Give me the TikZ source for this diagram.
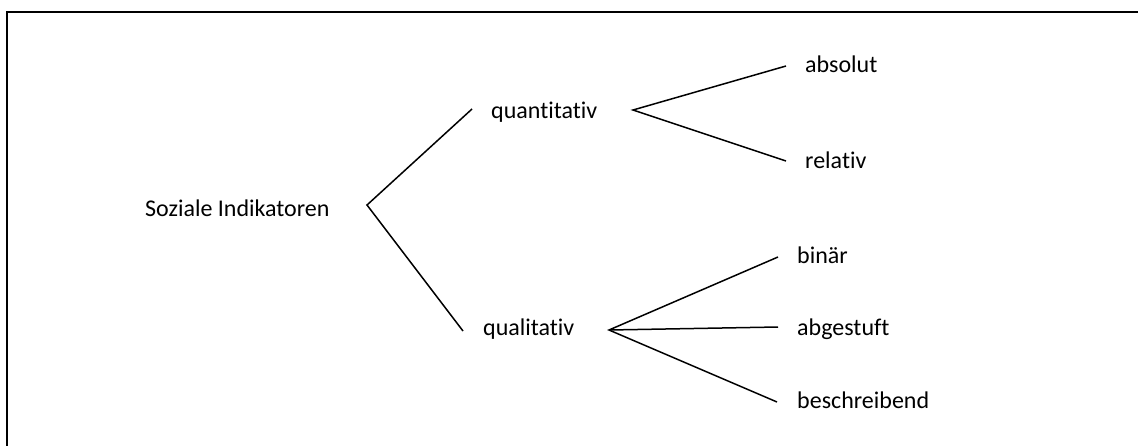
\documentclass[tikz,border=0pt]{standalone}
\usepackage{fontspec}
\setmainfont{Carlito}[Ligatures=NoCommon]
\begin{document}
\begin{tikzpicture}[x=1pt,y=-1pt,
  lbl/.style={anchor=base west,inner sep=0pt,font=\fontsize{24}{28}\selectfont},
  edge/.style={line width=1.5pt,black},
  frame/.style={line width=2.2pt,black}]
\useasboundingbox (0,0) rectangle (1138,445);
\draw[frame] (7,447) -- (7,12) -- (1140,12);
\node[lbl] (root) at (145,216) {Soziale Indikatoren};
\node[lbl] (quan) at (491,118) {quantitativ};
\node[lbl] (qual) at (483,335) {qualitativ};
\node[lbl] (abs) at (805,72) {absolut};
\node[lbl] (rel) at (805,168) {relativ};
\node[lbl] (bin) at (797,263) {binär};
\node[lbl] (abg) at (797,335) {abgestuft};
\node[lbl] (bes) at (797,408) {beschreibend};
\coordinate (b0) at (367,205);
\coordinate (b1) at (633,110);
\coordinate (b2) at (609,330);
\coordinate (e1) at (472,109);
\coordinate (e2) at (463,331);
\coordinate (e3) at (786,66);
\coordinate (e4) at (786,161);
\coordinate (e5) at (778,257);
\coordinate (e6) at (778,327);
\coordinate (e7) at (777,402);
\draw[edge] (e1) -- (b0) -- (e2);
\draw[edge] (e3) -- (b1) -- (e4);
\draw[edge] (e5) -- (b2) -- (e7);
\draw[edge] (b2) -- (e6);
\end{tikzpicture}
\end{document}
